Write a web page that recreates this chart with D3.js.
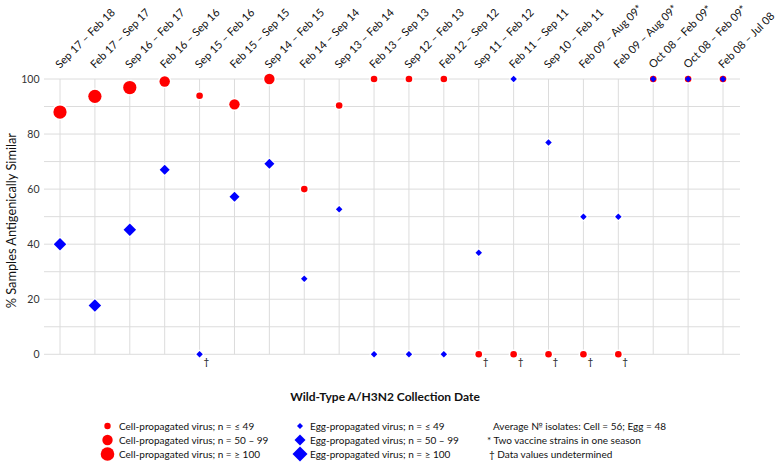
<!DOCTYPE html>
<html>
<head>
<meta charset="utf-8">
<script src="https://cdn.jsdelivr.net/npm/d3@7"></script>
<style>
  html, body { margin: 0; padding: 0; background: #fff; }
  svg { display: block; font-family: Lato, "Open Sans", sans-serif; }
</style>
</head>
<body>
<svg id="chart" width="778" height="466"></svg>
<script>
// ---------------- DATA ----------------
const categories = [
  "Sep 17 \u2013 Feb 18", "Feb 17 \u2013 Sep 17", "Sep 16 \u2013 Feb 17", "Feb 16 \u2013 Sep 16",
  "Sep 15 \u2013 Feb 16", "Feb 15 \u2013 Sep 15", "Sep 14 \u2013 Feb 15", "Feb 14 \u2013 Sep 14",
  "Sep 13 \u2013 Feb 14", "Feb 13 \u2013 Sep 13", "Sep 12 \u2013 Feb 13", "Feb 12 \u2013 Sep 12",
  "Sep 11 \u2013 Feb 12", "Feb 11 \u2013 Sep 11", "Sep 10 \u2013 Feb 11", "Feb 09 \u2013 Aug 09*",
  "Feb 09 \u2013 Aug 09*", "Oct 08 \u2013 Feb 09*", "Oct 08 \u2013 Feb 09*", "Feb 08 \u2013 Jul 08"
];
// Cell-propagated virus (% antigenically similar)
const cellValues = [88, 93.7, 96.9, 99.1, 93.9, 90.8, 100, 60, 90.4, 100, 100, 100, 0, 0, 0, 0, 0, 100, 100, 100];
// size class: 0 = n ≤ 49, 1 = n 50–99, 2 = n ≥ 100
const cellSizeClass = [2, 2, 2, 1, 0, 1, 1, 0, 0, 0, 0, 0, 0, 0, 0, 0, 0, 0, 0, 0];
const cellUndetermined = [false, false, false, false, false, false, false, false, false, false, false, false, true, true, true, true, true, false, false, false];
// Egg-propagated virus
const eggValues = [40, 17.7, 45.2, 67, 0, 57.2, 69.2, 27.4, 52.7, 0, 0, 0, 36.9, 100, 76.9, 50, 50, 100, 100, 100];
const eggSizeClass = [2, 2, 2, 1, 0, 1, 1, 0, 0, 0, 0, 0, 0, 0, 0, 0, 0, 0, 0, 0];
const eggUndetermined = [false, false, false, false, true, false, false, false, false, false, false, false, false, false, false, false, false, false, false, false];

const yTicks = [0, 20, 40, 60, 80, 100];
const yGrid = [0, 10, 20, 30, 40, 50, 60, 70, 80, 90, 100];

const cellLegend = ["Cell-propagated virus; n = \u2264 49", "Cell-propagated virus; n = 50 \u2013 99", "Cell-propagated virus; n = \u2265 100"];
const eggLegend = ["Egg-propagated virus; n = \u2264 49", "Egg-propagated virus; n = 50 \u2013 99", "Egg-propagated virus; n = \u2265 100"];
const noteLegend = ["Average \u2116 isolates: Cell = 56; Egg = 48", "* Two vaccine strains in one season", "\u2020 Data values undetermined"];

const yTitle = "% Samples Antigenically Similar";
const xTitle = "Wild-Type A/H3N2 Collection Date";

// ---------------- STYLE ----------------
const RED = "#ff0000", BLUE = "#0000ff", GRID = "#dcdcdc";
const circleR = [3.3, 5.2, 6.6];
const diamondW = [6.5, 10, 12.5];
const legCircleR = [3.2, 5.2, 6.8];
const legDiamondW = [6, 11, 15];

const svg = d3.select("#chart");

const x = d3.scalePoint().domain(d3.range(categories.length)).range([60, 723]);
const y = d3.scaleLinear().domain([0, 100]).range([354.3, 79]);
const plotLeft = 44, plotRight = 740;

// grid
const g = svg.append("g");
g.selectAll("line.h").data(yGrid).join("line")
  .attr("x1", plotLeft).attr("x2", plotRight)
  .attr("y1", d => y(d)).attr("y2", d => y(d))
  .attr("stroke", GRID).attr("stroke-width", 1);
g.selectAll("line.v").data(d3.range(categories.length)).join("line")
  .attr("x1", d => x(d)).attr("x2", d => x(d))
  .attr("y1", y(100)).attr("y2", y(0))
  .attr("stroke", GRID).attr("stroke-width", 1);

// y tick labels
svg.append("g").selectAll("text").data(yTicks).join("text")
  .attr("x", 39.5).attr("y", d => y(d)).attr("dy", "0.35em")
  .attr("text-anchor", "end").attr("font-size", 10.5).attr("fill", "#333")
  .text(d => d);

// y title
svg.append("text")
  .attr("transform", `translate(16,${(y(0) + y(100)) / 2 + 4}) rotate(-90)`)
  .attr("text-anchor", "middle").attr("font-size", 12.8).attr("fill", "#111")
  .text(yTitle);

// x category labels (top)
svg.append("g").selectAll("text").data(categories).join("text")
  .attr("transform", (d, i) => `translate(${x(i)},69) rotate(-45)`)
  .attr("text-anchor", "start").attr("font-size", 11).attr("fill", "#111")
  .text(d => d);

// x title
svg.append("text")
  .attr("x", 385).attr("y", 401)
  .attr("text-anchor", "middle").attr("font-size", 12).attr("font-weight", "bold").attr("fill", "#111")
  .text(xTitle);

// markers
const cellPts = cellValues.map((v, i) => ({ i, v, s: cellSizeClass[i], u: cellUndetermined[i] }));
const eggPts = eggValues.map((v, i) => ({ i, v, s: eggSizeClass[i], u: eggUndetermined[i] }));

const diamondPath = w => d3.symbol().type(d3.symbolSquare).size((w / Math.SQRT2) ** 2)();

const halo = svg.append("g");
halo.selectAll("circle").data(cellPts).join("circle")
  .attr("cx", d => x(d.i)).attr("cy", d => y(d.v)).attr("r", d => circleR[d.s] + 1.5)
  .attr("fill", "#fff");
halo.selectAll("path").data(eggPts).join("path")
  .attr("transform", d => `translate(${x(d.i)},${y(d.v)}) rotate(45)`)
  .attr("d", d => diamondPath(diamondW[d.s] + 3)).attr("fill", "#fff");

const marks = svg.append("g");
marks.selectAll("circle").data(cellPts).join("circle")
  .attr("cx", d => x(d.i)).attr("cy", d => y(d.v)).attr("r", d => circleR[d.s])
  .attr("fill", RED);
marks.selectAll("path").data(eggPts).join("path")
  .attr("transform", d => `translate(${x(d.i)},${y(d.v)}) rotate(45)`)
  .attr("d", d => diamondPath(diamondW[d.s])).attr("fill", BLUE);

// daggers for undetermined
const dag = cellPts.filter(d => d.u).concat(eggPts.filter(d => d.u));
svg.append("g").selectAll("text").data(dag).join("text")
  .attr("x", d => x(d.i) + 4).attr("y", d => y(d.v) + 10.5)
  .attr("font-size", 10).attr("fill", "#111")
  .text("\u2020");

// legend
const rows = [426, 440, 454];
const leg = svg.append("g").attr("font-size", 10).attr("fill", "#111");
leg.selectAll("circle").data(cellLegend).join("circle")
  .attr("cx", 107.5).attr("cy", (d, i) => rows[i]).attr("r", (d, i) => legCircleR[i]).attr("fill", RED);
leg.selectAll("text.c").data(cellLegend).join("text").attr("class", "c")
  .attr("x", 119).attr("y", (d, i) => rows[i]).attr("dy", "0.35em").text(d => d);
leg.selectAll("path").data(eggLegend).join("path")
  .attr("transform", (d, i) => `translate(300,${rows[i]}) rotate(45)`)
  .attr("d", (d, i) => diamondPath(legDiamondW[i])).attr("fill", BLUE);
leg.selectAll("text.e").data(eggLegend).join("text").attr("class", "e")
  .attr("x", 310).attr("y", (d, i) => rows[i]).attr("dy", "0.35em").text(d => d);
leg.selectAll("text.n").data(noteLegend).join("text").attr("class", "n")
  .attr("x", (d, i) => [493, 487, 489][i]).attr("y", (d, i) => rows[i]).attr("dy", "0.35em").text(d => d);
</script>
</body>
</html>
